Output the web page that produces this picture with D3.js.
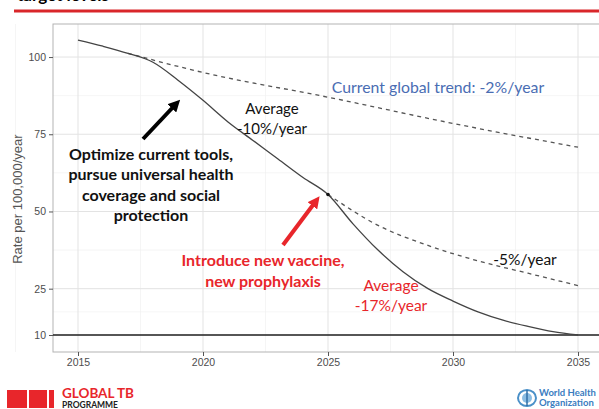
<!DOCTYPE html>
<html>
<head>
<meta charset="utf-8">
<script src="https://cdn.jsdelivr.net/npm/d3@7"></script>
<style>
  body { margin: 0; background: #fff; }
  svg { display: block; font-family: Lato, "Open Sans", sans-serif; }
</style>
</head>
<body>
<div id="chart"></div>
<script>
// values
var years = [2015, 2016, 2017, 2018, 2019, 2020, 2021, 2022, 2023, 2024, 2025,
             2026, 2027, 2028, 2029, 2030, 2031, 2032, 2033, 2034, 2035];
var mainRate = [105.5, 103.5, 101.2, 98.3, 92.5, 86, 79, 73, 67, 61, 55.5,
                46, 37.5, 30.5, 25, 21, 17.5, 14.8, 12.8, 11.1, 10];
var trendYears = [2017, 2020, 2025, 2030, 2035];
var trendRate = [101.2, 95, 87, 78.5, 70.8];
var slowYears = [2025, 2027, 2029, 2031, 2033, 2035];
var slowRate = [55.5, 45.5, 39, 34, 30, 26];
var xTicks = [2015, 2020, 2025, 2030, 2035];
var yTicks = [10, 25, 50, 75, 100];
var targetLevel = 10;

var W = 599, H = 409;
var m = {left: 53, top: 24, right: -4, bottom: 57};

var svg = d3.select("#chart").append("svg")
  .attr("width", W).attr("height", H);

// slide header remnants
svg.append("text")
  .attr("x", 17).attr("y", 1)
  .attr("font-size", 17).attr("font-weight", "bold")
  .text("target levels");
svg.append("line")
  .attr("x1", 14).attr("x2", W).attr("y1", 11).attr("y2", 11)
  .attr("stroke", "#d9262a").attr("stroke-width", 3);

var x = d3.scaleLinear().domain([2014, 2036]).range([m.left, W - m.right]);
var y = d3.scaleLinear().domain([4.5, 110.7]).range([H - m.bottom, m.top]);

var g = svg.append("g");

// grid
var minorX = d3.range(2012.5, 2040, 5);
var minorY = [17.5, 37.5, 62.5, 87.5];
g.selectAll(".gxm").data(minorX).enter().append("line")
  .attr("x1", x).attr("x2", x).attr("y1", y(4.5)).attr("y2", y(110.7))
  .attr("stroke", "#f0f0f0").attr("stroke-width", 0.7);
g.selectAll(".gym").data(minorY).enter().append("line")
  .attr("x1", x(2014)).attr("x2", x(2036)).attr("y1", y).attr("y2", y)
  .attr("stroke", "#f0f0f0").attr("stroke-width", 0.7);
g.selectAll(".gx").data(xTicks).enter().append("line")
  .attr("x1", x).attr("x2", x).attr("y1", y(4.5)).attr("y2", y(110.7))
  .attr("stroke", "#e3e3e3").attr("stroke-width", 1);
g.selectAll(".gy").data(yTicks).enter().append("line")
  .attr("x1", x(2014)).attr("x2", x(2036)).attr("y1", y).attr("y2", y)
  .attr("stroke", "#e3e3e3").attr("stroke-width", 1);

// panel border
g.append("rect")
  .attr("x", x(2014)).attr("y", y(110.7))
  .attr("width", x(2036) - x(2014)).attr("height", y(4.5) - y(110.7))
  .attr("fill", "none").attr("stroke", "#b3b3b3").attr("stroke-width", 1);

// axes
var xAxis = d3.axisBottom(x).tickValues(xTicks).tickFormat(d3.format("d"))
  .tickSize(4).tickPadding(3);
var yAxis = d3.axisLeft(y).tickValues(yTicks).tickSize(4).tickPadding(3);
var gx = svg.append("g").attr("transform", "translate(0," + y(4.5) + ")").call(xAxis);
var gy = svg.append("g").attr("transform", "translate(" + x(2014) + ",0)").call(yAxis);
[gx, gy].forEach(function(a) {
  a.select(".domain").remove();
  a.selectAll(".tick line").attr("stroke", "#555").attr("stroke-width", 1);
  a.selectAll(".tick text").attr("fill", "#4d4d4d").attr("font-size", 10.5)
    .attr("font-family", "'Liberation Sans', Arial, sans-serif");
});

svg.append("text")
  .attr("transform", "translate(22," + y(54) + ") rotate(-90)")
  .attr("text-anchor", "middle")
  .attr("font-size", 13).attr("fill", "#555")
  .attr("font-family", "'Liberation Sans', Arial, sans-serif")
  .text("Rate per 100,000/year");

// target line
g.append("line")
  .attr("x1", x(2014)).attr("x2", x(2036))
  .attr("y1", y(targetLevel)).attr("y2", y(targetLevel))
  .attr("stroke", "#222").attr("stroke-width", 1.3);

var line = d3.line().curve(d3.curveMonotoneX)
  .x(function(d) { return x(d[0]); })
  .y(function(d) { return y(d[1]); });

g.append("path")
  .datum(d3.zip(trendYears, trendRate))
  .attr("d", line).attr("fill", "none")
  .attr("stroke", "#555").attr("stroke-width", 1.3).attr("stroke-dasharray", "4,4");
g.append("path")
  .datum(d3.zip(slowYears, slowRate))
  .attr("d", line).attr("fill", "none")
  .attr("stroke", "#555").attr("stroke-width", 1.3).attr("stroke-dasharray", "4,4");
g.append("path")
  .datum(d3.zip(years, mainRate))
  .attr("d", line).attr("fill", "none")
  .attr("stroke", "#444").attr("stroke-width", 1.3);
g.append("circle")
  .attr("cx", x(2025)).attr("cy", y(55.5)).attr("r", 1.8).attr("fill", "#111");

// arrows
var defs = svg.append("defs");
function marker(id, col) {
  defs.append("marker").attr("id", id)
    .attr("viewBox", "0 0 10 10").attr("refX", 5).attr("refY", 5)
    .attr("markerWidth", 3).attr("markerHeight", 3).attr("orient", "auto")
    .append("path").attr("d", "M0,0L10,5L0,10z").attr("fill", col);
}
marker("ab", "#000");
marker("ar", "#e8262b");
svg.append("line")
  .attr("x1", 143).attr("y1", 139).attr("x2", 176).attr("y2", 104)
  .attr("stroke", "#000").attr("stroke-width", 4).attr("marker-end", "url(#ab)");
svg.append("line")
  .attr("x1", 283).attr("y1", 245).attr("x2", 316).attr("y2", 201)
  .attr("stroke", "#e8262b").attr("stroke-width", 4).attr("marker-end", "url(#ar)");

// annotations
function label(lines, cx, cy, opts) {
  var t = svg.append("text")
    .attr("text-anchor", "middle")
    .attr("font-size", opts.size).attr("fill", opts.color)
    .attr("font-weight", opts.bold ? "bold" : "normal");
  lines.forEach(function(s, i) {
    t.append("tspan").attr("x", cx).attr("y", cy + i * opts.lh).text(s);
  });
}
label(["Current global trend: -2%/year"], 438, 93, {size: 15.8, color: "#4a6db3", lh: 0});
label(["Average", "-10%/year"], 272, 114, {size: 15, color: "#111", lh: 20});
label(["Optimize current tools,", "pursue universal health", "coverage and social", "protection"],
  151, 160, {size: 16, color: "#111", bold: true, lh: 20.3});
label(["Introduce new vaccine,", "new prophylaxis"], 263, 266, {size: 16, color: "#e8262b", bold: true, lh: 20.5});
label(["Average", "-17%/year"], 391, 291, {size: 15.5, color: "#e8262b", lh: 19.5});
label(["-5%/year"], 525, 265, {size: 15.5, color: "#111", lh: 0});

// footer: programme logo
var blocks = [[7, 20], [29, 18], [49, 5]];
svg.selectAll(".blk").data(blocks).enter().append("rect")
  .attr("x", function(d) { return d[0]; }).attr("y", 390)
  .attr("width", function(d) { return d[1]; }).attr("height", 18)
  .attr("fill", "#e8262b");
svg.append("text").attr("x", 62).attr("y", 398)
  .attr("font-size", 13.5).attr("font-weight", "bold").attr("fill", "#e8262b")
  .text("GLOBAL TB");
svg.append("text").attr("x", 62).attr("y", 408)
  .attr("font-size", 8.5).attr("font-weight", "bold").attr("fill", "#222")
  .text("PROGRAMME");

// footer: WHO logo
var who = svg.append("g").attr("transform", "translate(527,398)");
who.append("ellipse").attr("rx", 9).attr("ry", 8)
  .attr("fill", "none").attr("stroke", "#4a90c8").attr("stroke-width", 2);
who.append("circle").attr("r", 5).attr("fill", "#8bbde3");
who.append("line").attr("x1", 0).attr("x2", 0).attr("y1", -8).attr("y2", 8)
  .attr("stroke", "#2f6ea6").attr("stroke-width", 1.5);
svg.append("text").attr("x", 539).attr("y", 396)
  .attr("font-size", 9.5).attr("font-weight", "bold").attr("fill", "#3a7dbf")
  .text("World Health");
svg.append("text").attr("x", 539).attr("y", 406)
  .attr("font-size", 9.5).attr("font-weight", "bold").attr("fill", "#3a7dbf")
  .text("Organization");
</script>
</body>
</html>
